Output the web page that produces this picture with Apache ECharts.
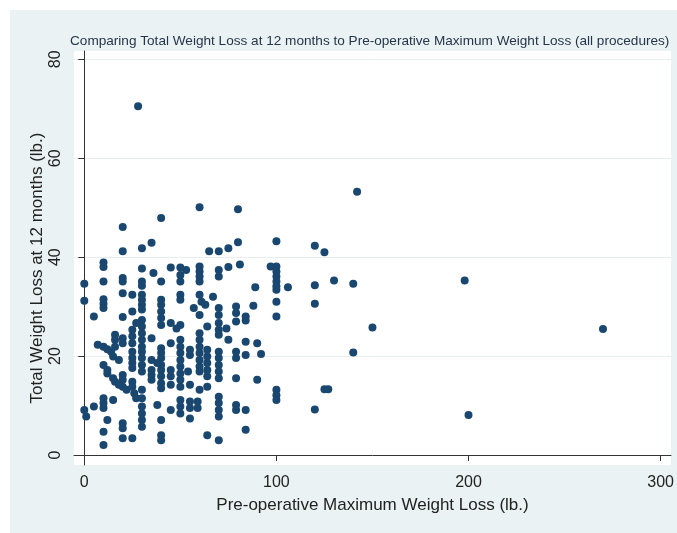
<!DOCTYPE html>
<html>
<head>
<meta charset="utf-8">
<script src="https://cdn.jsdelivr.net/npm/echarts@6/dist/echarts.min.js"></script>
<style>
html,body{margin:0;padding:0;background:#fff;}
#wrap{position:relative;width:677px;height:533px;background:#fff;overflow:hidden;}
#bg{position:absolute;left:10px;top:10px;width:667px;height:523px;background:#eaf2f3;}
#chart{position:absolute;left:0;top:0;width:677px;height:533px;}
</style>
</head>
<body>
<div id="wrap"><div id="bg"></div><div id="chart"></div></div>
<script>
// Pre-operative maximum weight loss (lb.)
const preOpLoss = [
  28,142,100,120,125,100,97,100,100,100,100,100,100,100,106,120,130,140,120,150,140,100,100,100,125,127,120,198,270,200,
  40,20,35,30,20,10,10,30,36,45,50,0,10,20,20,30,30,40,50,50,0,10,10,10,20,25,30,30,30,30,40,40,40,40,40,50,50,5,20,25,
  30,30,30,27,25,25,25,25,25,25,25,30,30,30,30,30,30,35,16,16,16,20,20,7,10,12,14,40,40,40,40,40,40,40,40,45,50,45,
  35,35,35,38,45,45,45,10,12,12,15,16,18,20,22,20,20,25,25,26,27,30,30,30,30,30,30,10,10,10,15,5,0,1,38,45,12,20,20,10,40,20,25,10,40,40,35,15,18,
  60,80,80,75,70,65,75,81,70,70,60,60,60,60,53,89,60,61,63,67,57,60,70,70,79,79,88,84,
  48,60,60,60,60,60,60,60,64,70,70,70,74,75,79,84,84,90,92,79,79,84,55,55,
  50,50,50,50,50,50,50,50,50,50,50,
  64,64,64,64,64,70,70,70,70,70,54,55,60,64,79,90,55,55,55,59,59,70,70,70,70,79,79,84,84,64,70
];
// Total weight loss at 12 months (lb.)
const totalLoss12m = [
  70.5,53.2,43.2,42.3,41.0,38.1,38.1,37.1,36.1,35.1,34.1,33.4,31.0,28.0,33.9,34.3,35.3,34.6,30.6,25.8,20.7,13.2,12.1,11.1,13.3,13.3,9.2,35.3,25.5,8.1,
  47.9,46.1,42.9,41.8,41.2,38.9,38.0,37.7,36.8,37.9,37.9,34.6,35.1,35.8,35.1,35.1,34.2,35.1,32.4,31.4,31.2,31.5,30.6,29.7,32.7,32.4,32.4,31.4,30.4,29.4,31.4,30.4,29.0,27.7,26.3,36.4,35.1,28.0,27.9,29.0,
  27.3,26.0,24.6,26.7,25.3,24.0,22.6,20.9,19.6,18.6,17.6,23.3,21.9,20.9,19.6,18.2,16.9,23.6,24.3,23.3,21.9,23.6,22.6,22.3,21.9,21.4,20.9,21.6,20.6,19.6,18.2,17.2,15.9,14.5,13.5,26.7,26.3,22.6,
  17.2,16.2,15.2,18.6,17.2,15.9,14.2,18.2,17.2,16.5,15.5,14.8,14.2,13.8,13.2,16.2,15.2,14.8,13.8,12.5,11.5,13.2,11.5,9.8,8.4,7.1,5.7,11.5,10.5,9.5,11.1,9.8,9.1,7.8,10.1,9.1,7.1,6.4,5.4,4.7,7.1,3.4,3.4,2.0,4.0,3.0,19.2,19.9,19.2,
  50.1,49.7,43.0,41.8,41.2,41.2,38.0,38.5,37.4,36.1,38.1,37.1,36.1,35.1,37.4,33.9,32.4,31.0,30.4,32.0,29.7,28.3,29.7,28.3,30.0,28.7,30.2,28.0,
  25.6,24.6,23.3,21.9,20.6,19.2,17.9,16.9,26.0,26.7,25.3,24.3,25.6,23.3,27.0,27.2,22.9,22.6,20.4,20.9,19.6,20.2,21.3,20.2,
  23.3,21.9,20.6,19.2,17.9,16.5,15.2,13.8,11.1,9.8,8.4,
  21.3,19.9,18.6,17.2,15.9,20.9,19.6,18.2,16.9,15.5,16.9,14.2,13.2,13.8,15.5,15.2,10.8,9.5,7.4,10.8,9.5,11.8,10.5,9.1,7.8,10.1,9.1,9.1,5.1,4.0,3.0
];
const xTicks = [0, 100, 200, 300];
const yTicks = [0, 20, 40, 60, 80];
const titleText = 'Comparing Total Weight Loss at 12 months to Pre-operative Maximum Weight Loss (all procedures)';
const xTitle = 'Pre-operative Maximum Weight Loss (lb.)';
const yTitle = 'Total Weight Loss at 12 months (lb.)';

const points = preOpLoss.map((x, i) => [x, totalLoss12m[i]]);
const font = 'Liberation Sans, Arial, Helvetica, sans-serif';

const chart = echarts.init(document.getElementById('chart'), null, {renderer: 'canvas'});
chart.setOption({
  backgroundColor: 'transparent',
  animation: false,
  title: {
    text: titleText,
    left: 65, top: 29,
    textStyle: {fontFamily: font, fontSize: 13.6, fontWeight: 'normal', color: '#26364a'}
  },
  grid: {
    left: 74, right: 6, top: 51, bottom: 68,
    show: true, backgroundColor: '#ffffff', borderWidth: 0
  },
  xAxis: {
    type: 'value', min: -5.36, max: 305.4,
    name: xTitle, nameLocation: 'middle', nameGap: 32,
    nameTextStyle: {fontFamily: font, fontSize: 17, color: '#222'},
    axisLine: {show: true, lineStyle: {color: '#333', width: 1}},
    axisTick: {show: true, length: 6, customValues: xTicks, lineStyle: {color: '#333'}},
    axisLabel: {customValues: xTicks, margin: 10, fontFamily: font, fontSize: 16, color: '#222'},
    splitLine: {show: false}
  },
  yAxis: {
    type: 'value', min: -2.02, max: 81.68,
    name: yTitle, nameLocation: 'middle', nameGap: 28, nameMoveOverlap: false,
    nameTextStyle: {fontFamily: font, fontSize: 17, color: '#222', padding: [0, 20, 0, 0]},
    axisLine: {show: true, lineStyle: {color: '#333', width: 1}},
    axisTick: {show: true, length: 6, customValues: yTicks, lineStyle: {color: '#333'}},
    axisLabel: {customValues: yTicks, rotate: 90, margin: 10, fontFamily: font, fontSize: 16, color: '#222'},
    splitLine: {show: true, lineStyle: {color: '#e6eeef', width: 1}}
  },
  series: [{
    type: 'scatter',
    data: points,
    symbol: 'circle',
    symbolSize: 8,
    itemStyle: {color: '#1a476f', opacity: 1},
    silent: true
  }]
});
</script>
</body>
</html>
